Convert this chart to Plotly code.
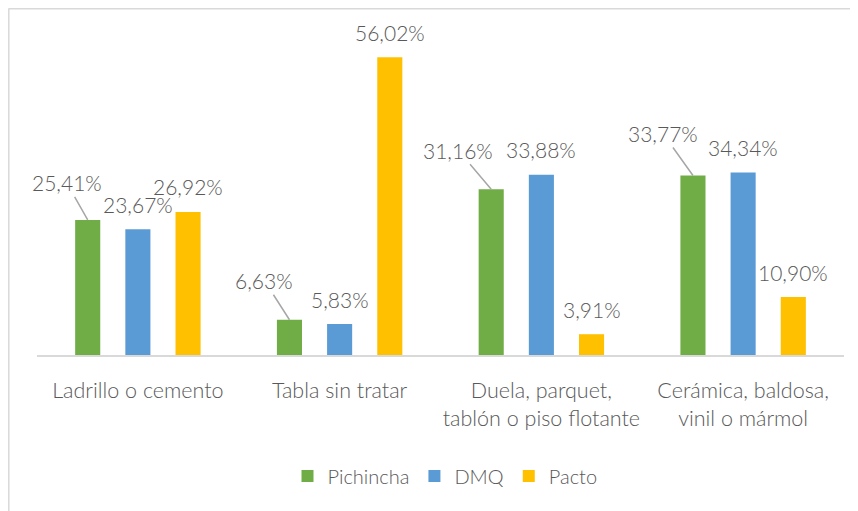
import plotly.graph_objects as go

categories = ["Ladrillo o cemento", "Tabla sin tratar",
              "Duela, parquet,<br>tablón o piso flotante",
              "Cerámica, baldosa,<br>vinil o mármol"]
series_names = ["Pichincha", "DMQ", "Pacto"]
pichincha = [25.41, 6.63, 31.16, 33.77]
dmq = [23.67, 5.83, 33.88, 34.34]
pacto = [26.92, 56.02, 3.91, 10.90]
values = [pichincha, dmq, pacto]
colors = ["#70AD47", "#5B9BD5", "#FFC000"]

TEXT = "#595959"
FONT = "Lato"
WEIGHT = 300
bargap = 0.254
bargroupgap = 0.5

# label offsets in pixels (dx, dy) of text centre from bar top; leader lines where Excel moved labels
leader = {(0, 0): (-21, -37), (0, 1): (-25, -39), (0, 2): (-33, -39), (0, 3): (-30, -42)}
default_dy = 25

fig = go.Figure()
for name, vals, col in zip(series_names, values, colors):
    fig.add_trace(go.Bar(name=name, x=list(range(len(categories))), y=vals,
                         marker=dict(color=col, line=dict(width=0))))

slot = (1 - bargap) / len(series_names)
lab_font = dict(family=FONT, size=21, color=TEXT, weight=WEIGHT)
annotations = []
for s, vals in enumerate(values):
    off = (s - (len(series_names) - 1) / 2) * slot
    for c, v in enumerate(vals):
        txt = f"{v:.2f}".replace(".", ",") + "%"
        if (s, c) in leader:
            dx, dy = leader[(s, c)]
            annotations.append(dict(x=c + off, y=v, xref="x", yref="y", text=txt,
                                    showarrow=True, ax=dx, ay=dy, arrowhead=0,
                                    arrowwidth=1.5, arrowcolor="#A6A6A6", standoff=0,
                                    font=lab_font))
        else:
            annotations.append(dict(x=c + off, y=v, xref="x", yref="y", text=txt,
                                    showarrow=False, yshift=default_dy,
                                    xanchor="center", yanchor="middle",
                                    font=lab_font))

# page has an 8px body margin: figure is placed at (8, 8)
OFF = 8
W, H = 858 - OFF, 511 - OFF
ml, mr, mt, mb = 37 - OFF, 14, 36 - OFF, 156
pw, ph = W - ml - mr, H - mt - mb
def px(x):
    return (x - OFF - ml) / pw
def py(y):
    return (H - mb - (y - OFF)) / ph

shapes = [
    dict(type="line", xref="paper", yref="paper", x0=px(8.5), x1=px(870), y0=py(8.8), y1=py(8.8),
         line=dict(color="#D9D9D9", width=1.5)),
    dict(type="line", xref="paper", yref="paper", x0=px(8.8), x1=px(8.8), y0=py(8.5), y1=py(520),
         line=dict(color="#D9D9D9", width=1.5)),
]

fig.update_layout(
    width=W, height=H,
    margin=dict(l=ml, r=mr, t=mt, b=mb, autoexpand=False),
    paper_bgcolor="white", plot_bgcolor="white",
    barmode="group", bargap=bargap, bargroupgap=bargroupgap,
    font=dict(family=FONT, size=20, color=TEXT, weight=WEIGHT),
    showlegend=True,
    legend=dict(orientation="h", x=px(445), xanchor="center", y=py(476), yanchor="middle",
                font=dict(family=FONT, size=20, color=TEXT, weight=WEIGHT), itemwidth=30,
                bgcolor="rgba(0,0,0,0)"),
    annotations=annotations,
    shapes=shapes,
    xaxis=dict(tickmode="array", tickvals=list(range(len(categories))), ticktext=categories,
               range=[-0.5, len(categories) - 0.5],
               showline=True, linecolor="#D9D9D9", linewidth=1.5, showgrid=False,
               zeroline=False, ticks="", ticklabelstandoff=15,
               tickfont=dict(family=FONT, size=21.5, color=TEXT, weight=WEIGHT)),
    yaxis=dict(range=[0, 60], visible=False, showgrid=False, zeroline=False),
)

fig.write_html("out.html")
